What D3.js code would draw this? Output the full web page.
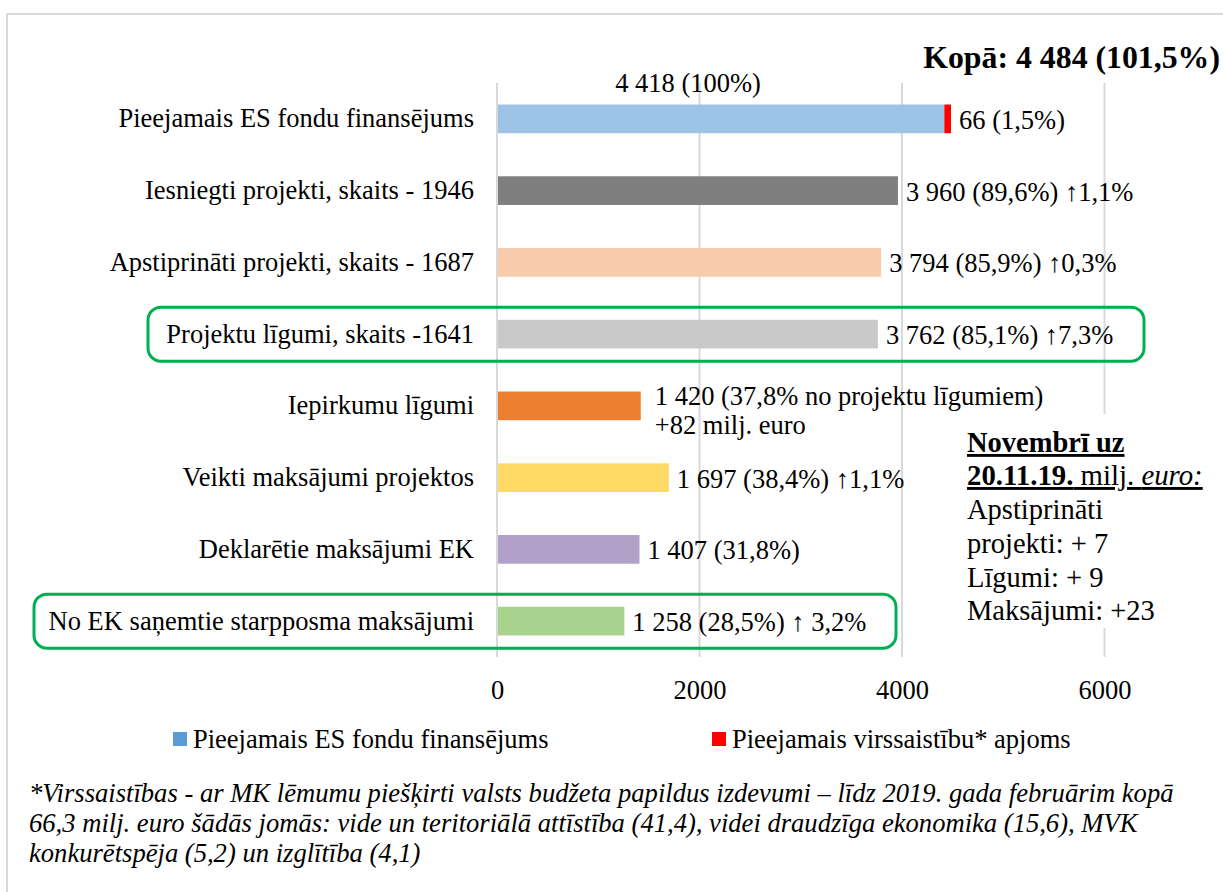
<!DOCTYPE html>
<html><head><meta charset="utf-8">
<script src="https://cdn.jsdelivr.net/npm/d3@7"></script>
<style>
html,body{margin:0;padding:0;background:#fff;}
svg{display:block;}
text{font-family:'Liberation Serif','Times New Roman',Times,Tinos,'DejaVu Serif',serif;}
</style></head>
<body>
<svg id="c" width="1223" height="892"></svg>
<script>
const categories = [
  "Pieejamais ES fondu finansējums",
  "Iesniegti projekti, skaits - 1946",
  "Apstiprināti projekti, skaits - 1687",
  "Projektu līgumi, skaits -1641",
  "Iepirkumu līgumi",
  "Veikti maksājumi projektos",
  "Deklarētie maksājumi EK",
  "No EK saņemtie starpposma maksājumi"
];
const values = [4418, 3960, 3794, 3762, 1420, 1697, 1407, 1258];
const extraValues = [66, 0, 0, 0, 0, 0, 0, 0];
const barColors = ["#9DC3E6","#7F7F7F","#F8CBAD","#C9C9C9","#ED7D31","#FFD966","#B1A0C7","#A9D18E"];
const valueLabels = [
  ["66 (1,5%)"],
  ["3 960 (89,6%) ↑1,1%"],
  ["3 794 (85,9%) ↑0,3%"],
  ["3 762 (85,1%) ↑7,3%"],
  ["1 420 (37,8% no projektu līgumiem)", "+82 milj. euro"],
  ["1 697 (38,4%) ↑1,1%"],
  ["1 407 (31,8%)"],
  ["1 258 (28,5%) ↑ 3,2%"]
];
const topLabel = "4 418 (100%)";
const totalLabel = "Kopā: 4 484 (101,5%)";
const xTicks = [0, 2000, 4000, 6000];
const legendItems = ["Pieejamais ES fondu finansējums", "Pieejamais virssaistību* apjoms"];
const legendColors = ["#5B9BD5", "#FF0000"];
const noteLines = ["Apstiprināti", "projekti: + 7", "Līgumi: + 9", "Maksājumi: +23"];
const footnote = [
  "*Virssaistības - ar MK lēmumu piešķirti valsts budžeta papildus izdevumi – līdz 2019. gada februārim kopā",
  "66,3 milj. euro šādās jomās: vide un teritoriālā attīstība (41,4), videi draudzīga ekonomika (15,6), MVK",
  "konkurētspēja (5,2) un izglītība (4,1)"
];

const svg = d3.select("#c");
const FS = 26.5;

// frame
svg.append("rect").attr("x",7).attr("y",14).attr("width",1230).attr("height",900)
  .attr("fill","none").attr("stroke","#D9D9D9").attr("stroke-width",2);

const x = d3.scaleLinear().domain([0,6000]).range([497,1104.5]);
const y = d3.scaleBand().domain(categories).range([83,657]).paddingInner(0.6).paddingOuter(0.3);

// gridlines
const grid = svg.append("g");
xTicks.forEach(t => {
  grid.append("line").attr("x1",x(t)).attr("x2",x(t)).attr("y1",83).attr("y2",657)
    .attr("stroke","#D9D9D9").attr("stroke-width",2);
});

// tick labels
const xAxis = d3.axisBottom(x).tickValues(xTicks).tickSize(0).tickPadding(0).tickFormat(d3.format("d"));
const ax = svg.append("g").attr("transform","translate(0,680)").call(xAxis);
ax.select(".domain").remove();
ax.attr("font-family",null).attr("font-size",null);
ax.selectAll("text").attr("dy",null).attr("y",19).attr("font-size",FS).attr("fill","#000");

// bars
svg.append("g").selectAll("rect").data(categories).join("rect")
  .attr("x", x(0)+1).attr("y", d=>y(d)).attr("height", y.bandwidth())
  .attr("width", (d,i)=>x(values[i])-x(0)-1).attr("fill",(d,i)=>barColors[i]);
// extra (red) segment
const extraIdx = extraValues.map((v,i)=>i).filter(i=>extraValues[i]>0);
svg.append("g").selectAll("rect").data(extraIdx).join("rect")
  .attr("x", i=>x(values[i]))
  .attr("y", i=>y(categories[i])).attr("height", y.bandwidth())
  .attr("width", i=>x(values[i]+extraValues[i])-x(values[i]))
  .attr("fill","#FF0000");

// category labels
svg.append("g").selectAll("text").data(categories).join("text")
  .attr("x", 474).attr("y", d=>y(d)+y.bandwidth()/2+8.5)
  .attr("text-anchor","end").attr("font-size",FS).attr("fill","#000").text(d=>d);

// value labels
categories.forEach((c,i)=>{
  const end = x(values[i]+extraValues[i]);
  const lines = valueLabels[i];
  const cy = y(c)+y.bandwidth()/2;
  const t = svg.append("text").attr("font-size",FS).attr("fill","#000");
  if (lines.length===1) {
    t.attr("x", end+8).attr("y", cy+10).text(lines[0]);
  } else {
    lines.forEach((l,k)=>{
      t.append("tspan").attr("x", end+14).attr("y", cy-1+k*29).text(l);
    });
  }
});

// top label
svg.append("text").attr("x", 688).attr("y", 92).attr("text-anchor","middle")
  .attr("font-size",FS).text(topLabel);
svg.append("text").attr("x", 1220).attr("y", 68).attr("text-anchor","end")
  .attr("font-size",31.8).attr("font-weight","bold").text(totalLabel);

// green rounded rectangles
function greenBox(x0,x1,cat){
  const cy = y(cat)+y.bandwidth()/2;
  svg.append("rect").attr("x",x0).attr("y",cy-27).attr("width",x1-x0).attr("height",54)
    .attr("rx",13).attr("fill","none").attr("stroke","#00B050").attr("stroke-width",3);
}
greenBox(148,1144,categories[3]);
greenBox(34,896,categories[7]);

// note box
svg.append("rect").attr("x",960).attr("y",414).attr("width",258).attr("height",214).attr("fill","#fff");
const note = svg.append("g");
note.append("text").attr("x",967).attr("y",452).attr("font-weight","bold").attr("font-size",28.5)
  .attr("text-decoration","underline").text("Novembrī uz");
const l2 = note.append("text").attr("x",967).attr("y",485).attr("font-size",28.8).attr("text-decoration","underline");
l2.append("tspan").attr("font-weight","bold").text("20.11.19.");
l2.append("tspan").text(" milj. ");
l2.append("tspan").attr("font-style","italic").text("euro:");
noteLines.forEach((l,k)=>{
  note.append("text").attr("x",967).attr("y",519+k*33.8).attr("font-size",28.5).text(l);
});

// legend
const lg = svg.append("g");
const legX = [173, 712];
legendItems.forEach((l,k)=>{
  lg.append("rect").attr("x",legX[k]).attr("y",732).attr("width",14).attr("height",14).attr("fill",legendColors[k]);
  lg.append("text").attr("x",legX[k]+20).attr("y",748).attr("font-size",FS).text(l);
});

// footnote
footnote.forEach((l,k)=>{
  svg.append("text").attr("x",29).attr("y",802+k*30).attr("font-size",26.6).attr("font-style","italic").text(l);
});
</script>
</body></html>
